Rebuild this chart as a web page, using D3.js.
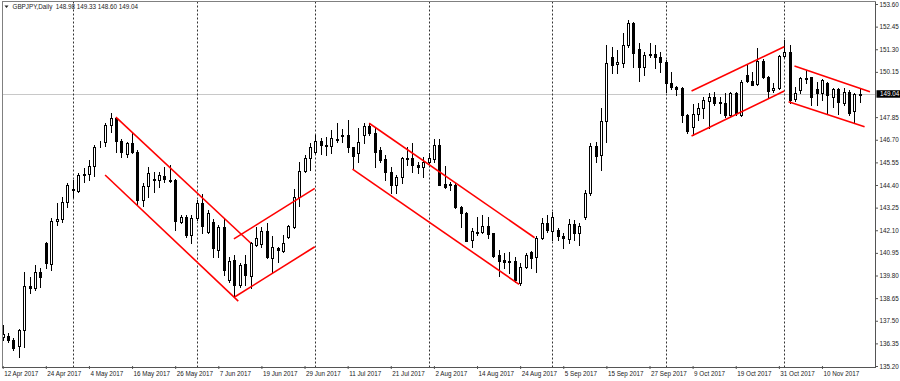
<!DOCTYPE html>
<html><head><meta charset="utf-8">
<script src="https://cdn.jsdelivr.net/npm/d3@7"></script>
<style>
html,body{margin:0;padding:0;background:#fff;overflow:hidden}
text{font-family:"Liberation Sans",Arial,sans-serif;}
</style></head>
<body><svg id="c" width="900" height="381"></svg>
<script>
const symbol = "GBPJPY,Daily";
const openV = [136.65,136.72,136.52,136.21,137.03,139.26,139.14,139.99,141.43,140.38,
142.58,142.65,143.55,144.22,144.11,144.89,144.96,145.36,146.53,146.57,
147.45,147.79,146.65,145.98,146.52,146.09,143.64,144.35,144.72,144.65,
144.86,144.65,144.65,142.53,142.79,141.86,142.70,143.47,142.03,142.53,
141.09,142.25,139.57,140.58,139.31,140.36,139.77,141.35,141.40,142.06,
140.67,141.18,141.06,141.74,142.28,143.81,145.13,145.79,146.09,146.65,
146.38,146.40,146.74,146.89,146.94,146.35,146.01,146.94,147.40,147.03,
146.18,145.70,145.08,144.40,144.79,145.75,145.75,145.41,145.33,145.58,
145.70,146.43,144.45,144.43,144.40,143.30,142.96,141.60,141.98,142.03,
142.31,141.94,140.84,140.58,140.53,140.53,139.40,140.24,141.01,140.75,
141.69,142.45,142.07,142.11,141.80,141.63,142.41,141.94,142.79,143.97,
146.38,145.92,147.67,150.92,150.53,150.62,151.52,152.62,151.30,150.41,
151.06,151.06,150.92,150.67,149.60,149.36,149.31,147.96,147.33,148.01,
148.30,148.68,148.85,148.64,148.58,147.96,149.06,147.96,149.99,149.68,
149.53,150.72,149.91,149.23,149.31,150.96,151.18,148.75,149.23,149.77,
149.87,149.26,149.06,149.57,148.89,149.26,148.58,149.14,148.18,148.98];
const highV = [137.28,136.86,136.60,137.06,139.99,139.74,140.33,140.16,141.52,142.70,
143.50,143.80,144.48,144.65,145.03,145.25,145.67,146.43,146.65,147.57,
148.04,147.87,146.72,146.60,147.03,146.18,144.48,145.33,145.08,145.08,
145.33,145.42,144.69,142.87,142.87,142.87,143.64,143.92,143.13,142.65,
142.36,142.70,140.75,140.84,140.42,140.84,141.52,142.28,142.28,142.45,
141.81,141.26,141.86,142.36,144.18,145.58,145.92,146.55,146.94,146.77,
146.86,147.19,147.53,147.23,147.70,146.35,147.28,147.53,147.53,147.36,
146.35,145.92,145.33,144.91,145.84,146.35,146.52,145.58,145.80,146.01,
146.72,146.72,145.36,144.57,144.48,143.33,143.04,142.19,142.79,142.87,
142.79,141.94,141.09,140.96,141.01,140.75,140.42,140.92,141.06,141.81,
142.70,142.87,143.04,142.19,141.94,142.65,142.62,142.45,144.14,146.52,
146.60,148.30,151.52,151.43,151.26,152.14,152.79,152.70,151.60,151.18,
151.60,151.52,151.18,150.75,150.16,149.43,149.40,148.01,148.52,148.55,
148.89,149.06,149.14,148.89,149.06,149.14,149.14,149.74,150.50,150.16,
151.35,150.79,149.94,149.57,151.01,151.75,151.52,149.40,149.87,150.24,
149.91,149.65,149.77,149.65,149.31,149.31,149.31,149.23,149.09,149.33];
const lowV = [136.52,136.43,136.01,135.67,136.18,138.92,139.06,139.23,140.16,140.08,
142.36,142.53,143.30,143.80,144.06,144.57,144.65,144.85,146.35,146.38,
147.11,146.09,145.84,145.84,146.01,143.38,143.33,143.80,144.06,144.28,
144.57,144.57,142.11,142.45,141.77,141.47,142.62,141.97,141.94,140.72,
140.75,139.82,139.48,138.72,139.23,139.31,139.14,141.30,141.26,140.67,
139.91,140.50,141.01,141.69,142.19,143.33,145.08,145.16,146.01,145.97,
145.92,146.01,146.60,146.60,146.09,145.25,145.58,146.52,146.94,145.33,
145.58,144.65,144.01,143.97,144.48,145.41,145.08,145.03,144.82,145.53,
145.58,144.40,144.23,144.14,143.21,142.28,141.53,141.23,141.86,141.94,
141.69,140.75,139.77,140.16,139.91,139.48,139.31,140.19,140.16,139.99,
141.64,142.03,141.60,141.60,141.18,141.43,141.60,141.35,142.65,143.89,
145.58,145.16,146.60,150.08,150.08,150.41,151.43,150.41,149.70,149.99,
150.92,150.33,150.16,149.14,149.26,148.97,147.62,147.02,146.94,147.70,
147.79,147.28,148.47,148.04,147.87,147.87,147.96,147.91,149.65,149.48,
149.48,149.82,148.89,149.14,149.26,150.92,148.55,148.65,149.06,149.57,
148.47,148.47,148.72,148.04,148.38,148.01,148.47,147.96,147.53,148.60];
const closeV = [136.85,136.52,136.09,137.03,139.26,139.14,139.99,139.74,140.42,142.58,
142.67,143.52,144.40,144.14,144.91,144.96,145.36,146.35,146.56,147.45,
147.79,146.65,146.09,146.52,146.06,143.64,144.35,144.99,144.65,144.91,
144.69,144.62,142.58,142.79,141.86,142.70,143.47,142.31,142.96,141.18,
142.28,140.08,140.53,139.31,140.33,139.82,141.43,141.69,142.08,140.72,
141.26,141.09,141.47,142.31,143.81,145.13,145.75,146.35,146.65,146.43,
146.43,146.77,146.69,146.94,146.35,145.87,146.57,147.40,147.03,146.09,
145.67,145.08,144.40,144.79,145.75,145.70,145.41,145.30,145.58,145.79,
146.43,144.40,144.31,144.38,143.30,142.96,141.57,142.08,142.03,142.31,
141.91,140.79,140.55,140.50,140.50,139.57,140.24,140.84,140.67,141.69,
142.45,142.11,142.79,141.80,141.69,142.41,141.94,142.31,144.01,146.38,
145.87,147.67,150.58,150.50,150.63,151.52,152.62,151.13,150.38,151.01,
151.02,150.89,150.67,149.60,149.36,149.30,147.96,147.16,148.01,148.30,
148.72,148.85,148.55,148.58,147.96,149.09,148.04,149.65,149.70,149.48,
150.72,149.91,149.19,149.31,150.94,151.18,148.70,149.09,149.82,149.82,
148.89,149.06,149.74,148.97,149.26,148.63,149.14,148.04,149.02,149.04];

const tickLabels = ["12 Apr 2017","24 Apr 2017","4 May 2017","16 May 2017","26 May 2017","7 Jun 2017","19 Jun 2017","29 Jun 2017","11 Jul 2017","21 Jul 2017","2 Aug 2017","14 Aug 2017","24 Aug 2017","5 Sep 2017","15 Sep 2017","27 Sep 2017","9 Oct 2017","19 Oct 2017","31 Oct 2017","10 Nov 2017"];
const barsPerLabel = 8;
const separatorBars = [13,36,58,79,102,123,145];
const priceTicks = [153.60,152.45,151.30,150.15,147.85,146.70,145.55,144.40,143.25,142.10,140.95,139.80,138.65,137.50,136.35,135.20];
const lastPrice = 149.04;
// trend lines: [bar index, price] endpoints
const trendLines = [
  [[21,147.85],[46,141.45]],
  [[19,144.91],[43.7,138.50]],
  [[42.9,141.66],[57.9,144.23]],
  [[43.1,138.72],[57.9,141.26]],
  [[68,147.54],[98.7,141.72]],
  [[64.9,145.21],[95.8,139.35]],
  [[127.8,149.18],[145,151.43]],
  [[127.8,146.89],[145,149.18]],
  [[146.9,150.45],[160.9,149.14]],
  [[145.8,148.63],[159.9,147.36]]
];

const W=900,H=381;
const plotL=2, plotR=875.5, plotT=1.5, plotB=367.5;
const svg=d3.select("#c");
svg.append("rect").attr("width",W).attr("height",H).attr("fill","#fff");

const n=openV.length;
const x=d3.scaleLinear().domain([0,n-1]).range([2.7,2.7+5.39*(n-1)]);
const y=d3.scaleLinear().domain([135.20,153.60]).range([366,4]);

const plot=svg.append("g");
// clip
svg.append("clipPath").attr("id","pc").append("rect")
  .attr("x",plotL).attr("y",plotT).attr("width",plotR-plotL).attr("height",plotB-plotT);
plot.attr("clip-path","url(#pc)");

// current price line
plot.append("line").attr("x1",plotL).attr("x2",plotR)
  .attr("y1",Math.round(y(lastPrice))+0.5).attr("y2",Math.round(y(lastPrice))+0.5)
  .attr("stroke","#c8c8c8").attr("stroke-width",1);

// separators
plot.selectAll("line.sep").data(separatorBars).join("line").attr("class","sep")
  .attr("x1",d=>Math.round(x(d))+0.5).attr("x2",d=>Math.round(x(d))+0.5)
  .attr("y1",plotT).attr("y2",plotB)
  .attr("stroke","#333").attr("stroke-width",1).attr("stroke-dasharray","2,2");

// candles
const idx=d3.range(n);
const cx=i=>Math.round(x(i));
plot.selectAll("line.wick").data(idx).join("line").attr("class","wick")
  .attr("x1",i=>cx(i)+0.5).attr("x2",i=>cx(i)+0.5)
  .attr("y1",i=>Math.round(y(highV[i]))).attr("y2",i=>Math.round(y(lowV[i]))+1)
  .attr("stroke","#000").attr("stroke-width",1);
plot.selectAll("rect.body").data(idx).join("rect").attr("class","body")
  .attr("x",i=>cx(i)-0.5).attr("width",2)
  .attr("y",i=>Math.round(y(Math.max(openV[i],closeV[i])))+0.5)
  .attr("height",i=>Math.max(0,Math.round(y(Math.min(openV[i],closeV[i])))-Math.round(y(Math.max(openV[i],closeV[i])))))
  .attr("fill",i=>closeV[i]>=openV[i]?"#fff":"#000")
  .attr("stroke","#000").attr("stroke-width",1);

// trend lines
plot.selectAll("line.tl").data(trendLines).join("line").attr("class","tl")
  .attr("x1",d=>x(d[0][0])).attr("y1",d=>y(d[0][1]))
  .attr("x2",d=>x(d[1][0])).attr("y2",d=>y(d[1][1]))
  .attr("stroke","#ff0000").attr("stroke-width",1.6);

// frame
svg.append("line").attr("x1",plotL+0.5).attr("x2",plotL+0.5).attr("y1",plotT).attr("y2",plotB).attr("stroke","#808080");
svg.append("line").attr("x1",plotL).attr("x2",plotR).attr("y1",plotT).attr("y2",plotT).attr("stroke","#808080");
svg.append("line").attr("x1",plotL).attr("x2",plotR+0.5).attr("y1",plotB).attr("y2",plotB).attr("stroke","#555");
svg.append("line").attr("x1",plotR).attr("x2",plotR).attr("y1",plotT).attr("y2",plotB).attr("stroke","#555");

// bottom axis
const xAxis=d3.axisBottom(x)
  .tickValues(tickLabels.map((_,i)=>i*barsPerLabel))
  .tickFormat((d,i)=>tickLabels[i]).tickSize(3).tickSizeOuter(0);
const gx=svg.append("g").attr("transform",`translate(0,${plotB-1.5})`).call(xAxis);
gx.select(".domain").remove();
gx.selectAll(".tick line").attr("stroke","#555");
gx.selectAll(".tick text").attr("text-anchor","start").attr("x",1).attr("y",5.5).attr("dy","0.71em")
  .attr("font-size","6.3px").attr("fill","#222").attr("font-family","Liberation Sans, Arial, sans-serif");

// right axis
const yAxis=d3.axisRight(y).tickValues(priceTicks).tickFormat(d3.format(".2f")).tickSize(3).tickPadding(1.5).tickSizeOuter(0);
const gy=svg.append("g").attr("transform",`translate(${plotR-0.5},0)`).call(yAxis);
gy.select(".domain").remove();
gy.selectAll(".tick line").attr("stroke","#555");
gy.selectAll(".tick text").attr("font-size","6.3px").attr("fill","#222").attr("font-family","Liberation Sans, Arial, sans-serif");

// last price box
const ly=y(lastPrice);
svg.append("rect").attr("x",plotR+1).attr("y",ly-3.5).attr("width",W-plotR-1).attr("height",7.5).attr("fill","#000");
svg.append("text").attr("x",plotR+4.5).attr("y",ly).attr("dy","0.35em").attr("fill","#fff")
  .attr("font-size","6.3px").text(d3.format(".2f")(lastPrice));

// header
svg.append("path").attr("d","M4.5,5.5 L8.5,5.5 L6.5,8 Z").attr("fill","#222");
const last=n-1;
svg.append("text").attr("x",12.5).attr("y",9).attr("font-size","6.3px").attr("fill","#222")
  .attr("xml:space","preserve")
  .text(`${symbol}  ${openV[last].toFixed(2)} ${highV[last].toFixed(2)} ${lowV[last].toFixed(2)} ${closeV[last].toFixed(2)}`);
</script></body></html>
